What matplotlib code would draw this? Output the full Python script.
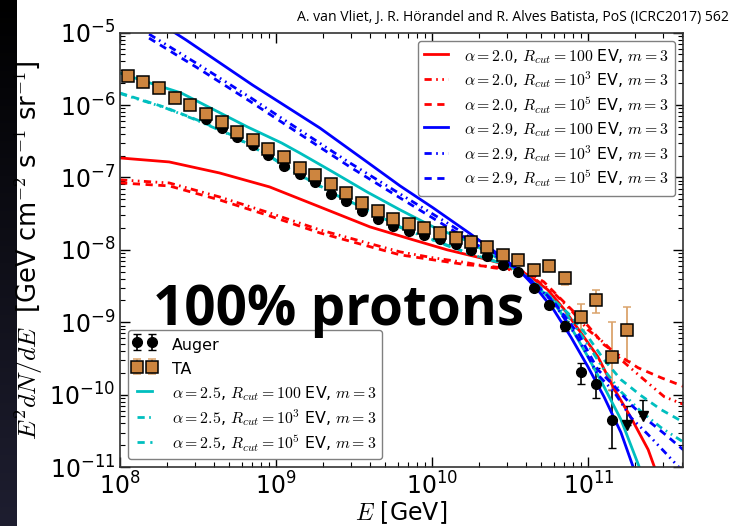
import matplotlib.pyplot as plt
import numpy as np
from matplotlib.colors import LinearSegmentedColormap

plt.rcParams['mathtext.fontset'] = 'cm'
plt.rcParams['font.family'] = ['DejaVu Sans']

# ---- measured spectra: log10(E/GeV) and E^2 dN/dE [GeV cm^-2 s^-1 sr^-1]
ta_lgE = [8.05, 8.15, 8.25, 8.35, 8.45, 8.55, 8.65, 8.75, 8.85, 8.95, 9.05,
          9.15, 9.25, 9.35, 9.45, 9.55, 9.65, 9.75, 9.85, 9.95, 10.05, 10.15,
          10.25, 10.35, 10.45, 10.55, 10.65, 10.75, 10.85, 10.95, 11.05, 11.15, 11.25]
ta_flux = [2.50e-6, 2.08e-6, 1.71e-6, 1.24e-6, 9.9e-7, 7.5e-7, 5.83e-7, 4.2e-7,
           3.29e-7, 2.45e-7, 1.9e-7, 1.34e-7, 1.08e-7, 8.13e-8, 6.05e-8, 4.49e-8,
           3.48e-8, 2.65e-8, 2.28e-8, 2.01e-8, 1.73e-8, 1.48e-8, 1.29e-8, 1.11e-8,
           8.53e-9, 7.16e-9, 5.30e-9, 5.89e-9, 4.07e-9, 1.20e-9, 2.0e-9, 3.27e-10, 7.9e-10]
ta_err_lo = [0] * 26 + [2e-10, 3e-10, 7.8e-10, 4.1e-10, 6.6e-10, 2.1e-10, 5.0e-10]
ta_err_hi = [0] * 26 + [2e-10, 3e-10, 5.5e-10, 5.8e-10, 7.5e-10, 6.9e-10, 8.6e-10]

auger_lgE = [8.55, 8.65, 8.75, 8.85, 8.95, 9.05, 9.15, 9.25, 9.35, 9.45, 9.55,
             9.65, 9.75, 9.85, 9.95, 10.05, 10.15, 10.25, 10.35, 10.45, 10.55,
             10.65, 10.75, 10.85, 10.95, 11.05, 11.15]
auger_flux = [6.35e-7, 4.86e-7, 3.58e-7, 2.78e-7, 2.04e-7, 1.44e-7, 1.12e-7,
              8.53e-8, 5.92e-8, 4.70e-8, 3.48e-8, 2.68e-8, 2.14e-8, 1.85e-8,
              1.61e-8, 1.43e-8, 1.21e-8, 1.0e-8, 8.18e-9, 6.21e-9, 5.02e-9,
              2.96e-9, 1.74e-9, 8.75e-10, 2.03e-10, 1.42e-10, 4.52e-11]
auger_err_lo = [0] * 22 + [1.5e-10, 1.25e-10, 6.1e-11, 5.2e-11, 2.68e-11]
auger_err_hi = [0] * 22 + [1.6e-10, 1.55e-10, 7.0e-11, 9.1e-11, 7.18e-11]
# Auger upper limits
ul_lgE = [11.25, 11.35]
ul_flux = [3.85e-11, 5.0e-11]
ul_top = [6.9e-11, 8.5e-11]

# ---- model curves (log10 E, log10 flux)
red_solid_lgE = [8.0, 8.315, 8.637, 8.958, 9.280, 9.601, 9.878, 10.096, 10.309, 10.521,
                 10.630, 10.740, 10.842, 10.952, 11.061, 11.164, 11.273, 11.383, 11.44]
red_solid_lgF = [-6.731, -6.786, -6.938, -7.131, -7.407, -7.683, -7.862, -8.0, -8.110, -8.234,
                 -8.372, -8.552, -8.814, -9.145, -9.476, -9.917, -10.317, -10.759, -11.10]
red_dot_lgE = [8.0, 8.315, 8.637, 8.958, 9.280, 9.582, 9.794, 10.006, 10.225, 10.392,
               10.502, 10.630, 10.778, 10.887, 10.997, 11.100, 11.209, 11.357, 11.486, 11.614]
red_dot_lgF = [-7.034, -7.076, -7.269, -7.490, -7.724, -7.903, -8.028, -8.110, -8.179, -8.248,
               -8.276, -8.359, -8.593, -8.828, -9.103, -9.283, -9.517, -9.793, -10.028, -10.138]
red_dash_lgE = [8.0, 8.315, 8.637, 8.958, 9.280, 9.582, 9.794, 10.006, 10.225, 10.392,
                10.502, 10.630, 10.714, 10.842, 10.997, 11.100, 11.209, 11.318, 11.466, 11.614]
red_dash_lgF = [-7.076, -7.117, -7.310, -7.531, -7.766, -7.945, -8.069, -8.138, -8.207, -8.234,
                -8.262, -8.331, -8.441, -8.717, -9.048, -9.310, -9.476, -9.628, -9.766, -9.890]

cyan_solid_lgE = [8.0, 8.174, 8.392, 8.605, 8.817, 9.035, 9.151, 9.363, 9.582, 9.794, 10.006,
                  10.225, 10.437, 10.566, 10.675, 10.778, 10.887, 10.997, 11.100, 11.209, 11.325, 11.34]
cyan_solid_lgF = [-5.559, -5.683, -5.834, -6.069, -6.303, -6.524, -6.662, -6.924, -7.2, -7.448, -7.683,
                  -7.876, -8.138, -8.303, -8.510, -8.731, -9.062, -9.476, -9.890, -10.345, -10.993, -11.10]
cyan_lgE = [8.0, 8.283, 8.495, 8.714, 8.926, 9.151, 9.363, 9.582, 9.794, 10.006, 10.225,
            10.437, 10.566, 10.675, 10.778, 10.887, 10.997, 11.100, 11.209, 11.338, 11.466, 11.614]
cyan_dot_lgF = [-5.840, -6.034, -6.213, -6.420, -6.668, -6.972, -7.220, -7.454, -7.689, -7.868, -8.047,
                -8.182, -8.303, -8.497, -8.703, -8.966, -9.310, -9.655, -9.959, -10.234, -10.455, -10.662]
cyan_dash_lgF = [-5.834, -6.028, -6.207, -6.414, -6.662, -6.966, -7.214, -7.448, -7.683, -7.862, -8.041,
                 -8.179, -8.303, -8.483, -8.690, -8.910, -9.200, -9.517, -9.793, -10.014, -10.207, -10.386]

blue_solid_lgE = [8.315, 8.424, 8.849, 9.280, 9.582, 9.794, 10.006, 10.244, 10.437, 10.566,
                  10.675, 10.778, 10.887, 10.997, 11.100, 11.209, 11.286, 11.30]
blue_solid_lgF = [-4.952, -5.103, -5.724, -6.317, -6.786, -7.117, -7.421, -7.779, -8.083, -8.303,
                  -8.552, -8.828, -9.200, -9.614, -10.028, -10.524, -10.993, -11.08]
blue_dot_lgE = [8.186, 8.508, 8.830, 9.151, 9.473, 9.794, 10.116, 10.437, 10.566, 10.675,
                10.778, 10.939, 11.061, 11.164, 11.273, 11.383, 11.486, 11.576, 11.59]
blue_dot_lgF = [-5.021, -5.448, -5.890, -6.345, -6.800, -7.228, -7.655, -8.097, -8.303, -8.510,
                -8.731, -9.241, -9.724, -9.959, -10.317, -10.552, -10.786, -10.993, -11.03]
blue_dash_lgE = [8.186, 8.508, 8.830, 9.151, 9.473, 9.794, 10.116, 10.437, 10.566, 10.675,
                 10.778, 10.939, 11.061, 11.164, 11.273, 11.383, 11.486, 11.614]
blue_dash_lgF = [-5.076, -5.503, -5.945, -6.400, -6.855, -7.283, -7.710, -8.124, -8.303, -8.497,
                 -8.717, -9.172, -9.655, -9.876, -10.138, -10.359, -10.538, -10.772]

DOT = (0, (2.6, 1.6, 0.6, 1.6, 0.6, 1.6))
DASH = (0, (2.6, 2.0))

fig = plt.figure(figsize=(7.41, 5.26), dpi=100)

# dark slide border on the left
edge = fig.add_axes([0, 0, 17 / 741, 1])
edge.imshow(np.linspace(0, 1, 256)[:, None], aspect='auto', origin='upper',
            cmap=LinearSegmentedColormap.from_list('edge', ['#000000', '#1e1e30']))
edge.axis('off')

ax = fig.add_axes([0.162, 0.112, 0.760, 0.826])

def lg(a):
    return 10 ** np.array(a)

h_auger = ax.errorbar(lg(auger_lgE), auger_flux, yerr=[auger_err_lo, auger_err_hi], fmt='o',
                      color='k', ms=7, capsize=3, elinewidth=1.2, label='Auger', zorder=2)
ax.errorbar(lg(ul_lgE), ul_flux, yerr=[[0, 0], np.array(ul_top) - np.array(ul_flux)], fmt='v',
            color='k', ms=7, capsize=3, elinewidth=1.2, zorder=2)
h_ta = ax.errorbar(lg(ta_lgE), ta_flux, yerr=[ta_err_lo, ta_err_hi], fmt='s', mfc='#cd853f',
                   mec='k', mew=1.1, ms=8, ecolor='#dba46c', capsize=3, elinewidth=1.3,
                   label='TA', zorder=2)

lw = 2.0
r1, = ax.plot(lg(red_solid_lgE), lg(red_solid_lgF), color='r', lw=lw,
              label=r'$\alpha = 2.0$, $R_{cut} = 100$ EV, $m = 3$')
r2, = ax.plot(lg(red_dot_lgE), lg(red_dot_lgF), color='r', lw=lw, ls=DOT,
              label=r'$\alpha = 2.0$, $R_{cut} = 10^3$ EV, $m = 3$')
r3, = ax.plot(lg(red_dash_lgE), lg(red_dash_lgF), color='r', lw=lw, ls=DASH,
              label=r'$\alpha = 2.0$, $R_{cut} = 10^5$ EV, $m = 3$')
c1, = ax.plot(lg(cyan_solid_lgE), lg(cyan_solid_lgF), color='c', lw=lw,
              label=r'$\alpha = 2.5$, $R_{cut} = 100$ EV, $m = 3$')
c2, = ax.plot(lg(cyan_lgE), lg(cyan_dot_lgF), color='c', lw=lw, ls=DOT,
              label=r'$\alpha = 2.5$, $R_{cut} = 10^3$ EV, $m = 3$')
c3, = ax.plot(lg(cyan_lgE), lg(cyan_dash_lgF), color='c', lw=lw, ls=DASH,
              label=r'$\alpha = 2.5$, $R_{cut} = 10^5$ EV, $m = 3$')
b1, = ax.plot(lg(blue_solid_lgE), lg(blue_solid_lgF), color='b', lw=lw,
              label=r'$\alpha = 2.9$, $R_{cut} = 100$ EV, $m = 3$')
b2, = ax.plot(lg(blue_dot_lgE), lg(blue_dot_lgF), color='b', lw=lw, ls=DOT,
              label=r'$\alpha = 2.9$, $R_{cut} = 10^3$ EV, $m = 3$')
b3, = ax.plot(lg(blue_dash_lgE), lg(blue_dash_lgF), color='b', lw=lw, ls=DASH,
              label=r'$\alpha = 2.9$, $R_{cut} = 10^5$ EV, $m = 3$')

ax.set_xscale('log')
ax.set_yscale('log')
ax.set_xlim(1e8, 4.05e11)
ax.set_ylim(1e-11, 1e-5)
ax.tick_params(which='both', direction='in', top=True, right=True, labelsize=17)
ax.tick_params(which='major', length=7, width=1)
ax.tick_params(which='minor', length=3.5, width=0.8)
for s in ax.spines.values():
    s.set_linewidth(1.2)
    s.set_color('#333333')

ax.set_xlabel(r'$E$ [GeV]', fontsize=17, labelpad=0)
ax.set_ylabel(r'$E^2dN/dE$  [GeV cm$^{-2}$ s$^{-1}$ sr$^{-1}$]', fontsize=18.5, labelpad=3)

leg_kw = dict(fontsize=11.4, handlelength=1.5, handletextpad=1.0,
              fancybox=True, framealpha=1, edgecolor='0.5')
leg1 = ax.legend(handles=[r1, r2, r3, b1, b2, b3], loc='upper right',
                 labelspacing=0.28, handleheight=1.3, **leg_kw)
ax.add_artist(leg1)
ax.legend(handles=[h_auger, h_ta, c1, c2, c3], loc='lower left', numpoints=2,
          labelspacing=0.3, handleheight=1.55, borderpad=0.3, **leg_kw)

fig.text(297 / 741, 1 - 18 / 526,
         'A. van Vliet, J. R. Hörandel and R. Alves Batista, PoS (ICRC2017) 562',
         fontsize=10.1, family='Open Sans', va='center', ha='left')
fig.text(153 / 741, 1 - 325 / 526, '100% protons', fontsize=39.5, fontweight='bold',
         family='Open Sans', va='baseline', ha='left', zorder=10)

fig.savefig('out.png', dpi=100)
